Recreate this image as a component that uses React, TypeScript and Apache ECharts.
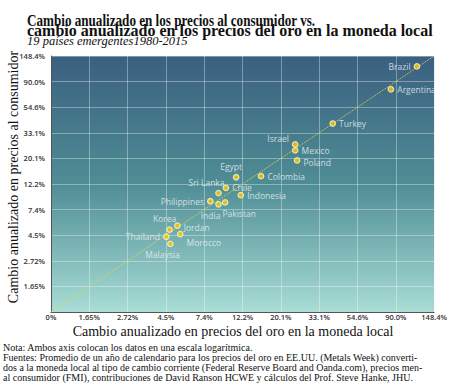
import React, { useEffect, useRef } from "react";
import * as echarts from "echarts";

const countries = ["Brazil","Argentina","Turkey","Israel","Mexico","Poland","Colombia","Egypt","Chile","Sri Lanka","Indonesia","Philippines","India","Pakistan","Korea","Jordan","Thailand","Morocco","Malaysia"];
// annualized change in local-currency gold price (%)
const goldChange = [118.5, 84.4, 39.5, 24.2, 24.2, 24.8, 15.5, 11.2, 9.8, 8.9, 11.9, 8.0, 8.9, 9.7, 4.7, 5.2, 4.5, 5.4, 4.75];
// annualized change in consumer prices (%)
const cpiChange = [121.0, 77.5, 39.7, 26.4, 23.5, 19.3, 14.2, 13.9, 11.3, 10.2, 9.8, 8.7, 8.2, 8.5, 5.0, 5.4, 4.35, 4.58, 3.79];
const tickLabels = ["0%","1.65%","2.72%","4.5%","7.4%","12.2%","20.1%","33.1%","54.6%","90.0%","148.4%"];
const labelPos = ["left","right","right","left","right","right","right","top","right","top","right","left","bottom","bottom","top","right","left","right","bottom"];
const labelOff = [[0,0],[0,0],[0,0],[0,-6],[0,0],[0,2],[0,0],[-5,0],[0,0],[-12,0],[0,0],[0,0],[-8,0],[14,0],[-5,0],[0,2],[0,0],[0,8],[-8,0]];

const serif = "'Liberation Serif', 'Times New Roman', serif";
const sans = "'Open Sans', 'Noto Sans', sans-serif";

export default function App() {
  const ref = useRef<HTMLDivElement>(null);
  useEffect(() => {
    const chart = echarts.init(ref.current!, null, { renderer: "svg" });
    const fmt = (v: number) => tickLabels[Math.round(v / 0.5)] ?? "";
    const fmtY = (v: number) => (Math.round(v / 0.5) === 0 ? "" : fmt(v));
    const pts = countries.map((c, i) => ({
      name: c,
      value: [Math.log(goldChange[i]), Math.log(cpiChange[i])],
      label: { position: labelPos[i], offset: labelOff[i] },
    }));
    const axisCommon = {
      type: "value",
      min: 0,
      max: 5,
      interval: 0.5,
      axisLine: { show: true, lineStyle: { color: "#555", width: 1 } },
      axisTick: { show: false },
      splitLine: { show: true, lineStyle: { color: "rgba(255,255,255,0.35)", width: 1 } },
      axisLabel: { fontFamily: sans, fontSize: 7.5, fontWeight: 600, color: "#333" },
    };
    chart.setOption({
      animation: false,
      grid: {
        left: 51, right: 15, top: 56, bottom: 73, containLabel: false, show: true,
        borderWidth: 0,
        backgroundColor: new echarts.graphic.LinearGradient(0, 0, 0, 1, [
          { offset: 0, color: "#3a6080" },
          { offset: 0.5, color: "#4f8d95" },
          { offset: 1, color: "#a9ddd5" },
        ]),
      },
      xAxis: { ...axisCommon, axisLabel: { ...axisCommon.axisLabel, formatter: fmt, margin: 1 } },
      yAxis: { ...axisCommon, axisLabel: { ...axisCommon.axisLabel, formatter: fmtY, margin: 6 } },
      graphic: [
        { type: "text", x: 27, y: 13, scaleX: 0.82, style: { text: "Cambio anualizado en los precios al consumidor vs.", font: `bold 16px ${serif}`, fill: "#111" } },
        { type: "text", left: 27, top: 22, style: { text: "cambio anualizado en los precios del oro en la moneda local", font: `bold 16px ${serif}`, fill: "#111" } },
        { type: "text", left: 27, top: 34, style: { text: "19 países emergentes1980-2015", font: `italic 12.5px ${serif}`, fill: "#111" } },
        { type: "text", x: 13, y: 177, rotation: Math.PI / 2, style: { text: "Cambio anualizado en precios al consumidor", font: `14px ${serif}`, fill: "#111", align: "center", verticalAlign: "middle" } },
        { type: "text", x: 233, y: 331, style: { text: "Cambio anualizado en precios del oro en la moneda local", font: `14px ${serif}`, fill: "#111", align: "center", verticalAlign: "middle" } },
        { type: "text", left: 3, top: 342, style: { text: "Nota: Ambos axis colocan los datos en una escala logarítmica.", font: `10px ${serif}`, fill: "#111" } },
        { type: "text", left: 3, top: 352, style: { text: "Fuentes: Promedio de un año de calendario para los precios del oro en EE.UU. (Metals Week) converti-", font: `10px ${serif}`, fill: "#111" } },
        { type: "text", left: 3, top: 362, style: { text: "dos a la moneda local al tipo de cambio corriente (Federal Reserve Board and Oanda.com), precios men-", font: `10px ${serif}`, fill: "#111" } },
        { type: "text", left: 3, top: 372, style: { text: "al consumidor (FMI), contribuciones de David Ranson HCWE y cálculos del Prof. Steve Hanke, JHU.", font: `10px ${serif}`, fill: "#111" } },
      ],
      series: [
        {
          type: "line",
          data: [[0, 0], [5, 5]],
          symbol: "none",
          silent: true,
          lineStyle: { color: "#e4d84a", width: 1, type: "dotted" },
          z: 2,
        },
        {
          type: "scatter",
          data: pts,
          symbol: "circle",
          symbolSize: 5.5,
          itemStyle: { color: "#ffc800", borderColor: "#fff6c8", borderWidth: 1.2 },
          label: {
            show: true,
            formatter: "{b}",
            fontFamily: sans,
            fontSize: 8.5,
            color: "#eef3f3",
            distance: 3,
          },
          z: 3,
        },
      ],
    });
    return () => chart.dispose();
  }, []);
  return <div ref={ref} style={{ width: 450, height: 385, position: "absolute", left: 0, top: 0 }} />;
}
